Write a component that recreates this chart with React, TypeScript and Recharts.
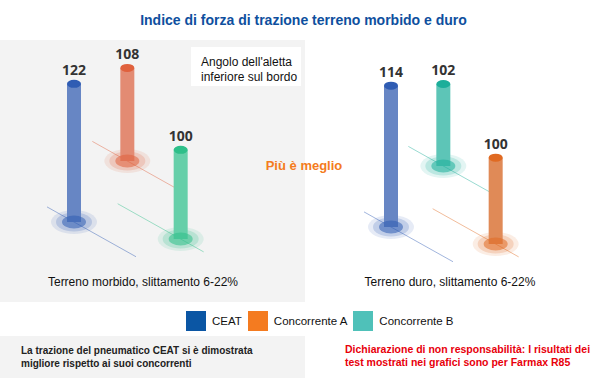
import { BarChart, Bar, XAxis, YAxis } from "recharts";

// valori indice (CEAT = riferimento)
const softCategories = ["CEAT", "Concorrente A", "Concorrente B"];
const softValues = [122, 108, 100];
const hardCategories = ["CEAT", "Concorrente B", "Concorrente A"];
const hardValues = [114, 102, 100];
const legendNames = ["CEAT", "Concorrente A", "Concorrente B"];

const softData = softCategories.map((name, i) => ({ name, value: softValues[i] }));
const hardData = hardCategories.map((name, i) => ({ name, value: hardValues[i] }));

const FONT = '"Liberation Sans", Arial, sans-serif';

const legendColors = { CEAT: "#0b56a4", "Concorrente A": "#f47b20", "Concorrente B": "#4fc1b9" };

const softColors = {
  CEAT: { body: "#6786c4", cap: "#2f5cb3" },
  "Concorrente A": { body: "#e38b73", cap: "#e0613d" },
  "Concorrente B": { body: "#66cfa9", cap: "#2ebf89" },
};
const hardColors = {
  CEAT: { body: "#6786c4", cap: "#2f5cb3" },
  "Concorrente A": { body: "#e08a57", cap: "#e06a22" },
  "Concorrente B": { body: "#5dc5b7", cap: "#1cae9a" },
};

// finta prospettiva: pilastro dietro sollevato e accorciato
const DEPTH = [17, 78, 0];
const LINE_SPAN = [[-27, 62], [-35, 57], [-63, 23]];
const SLOPE = 0.56;
const BACK_SCALE = 0.87;

function Pillar(props: any) {
  const { x, y, width, height, index, payload, colors } = props;
  const c = colors[payload.name];
  const cx = x + width / 2;
  const baseY = y + height - DEPTH[index];
  const h = index === 1 ? height * BACK_SCALE : height;
  const topY = baseY - h;
  const [l, r] = LINE_SPAN[index];
  return (
    <g>
      <line
        x1={cx + l}
        y1={baseY + l * SLOPE}
        x2={cx + r}
        y2={baseY + r * SLOPE}
        stroke={c.cap}
        strokeOpacity={0.45}
      />
      <ellipse cx={cx} cy={baseY} rx={23} ry={12} fill={c.cap} fillOpacity={0.12} />
      <ellipse cx={cx} cy={baseY} rx={18} ry={9.5} fill={c.cap} fillOpacity={0.2} />
      <rect x={cx - 7} y={topY} width={14} height={h} fill={c.body} />
      <ellipse cx={cx} cy={baseY} rx={12} ry={6.5} fill={c.cap} fillOpacity={0.55} />
      <ellipse cx={cx} cy={topY} rx={7} ry={4} fill={c.cap} />
      <text
        x={cx}
        y={topY - 9}
        textAnchor="middle"
        fontFamily='"Noto Sans", sans-serif'
        fontWeight="bold"
        fontSize={14}
        fill="#333"
      >
        {payload.value}
      </text>
    </g>
  );
}

export default function App() {
  return (
    <div style={{ position: "relative", width: 607, height: 378, background: "#fff", fontFamily: FONT }}>
      <style>{`body{margin:0}`}</style>

      <div
        style={{
          position: "absolute", top: 12, left: 0, width: 607, textAlign: "center",
          color: "#0e4f9e", fontWeight: "bold", fontSize: 14,
        }}
      >
        Indice di forza di trazione terreno morbido e duro
      </div>

      {/* pannello terreno morbido */}
      <div style={{ position: "absolute", left: 0, top: 40, width: 305, height: 262, background: "#f3f3f3" }}>
        <BarChart width={305} height={262} data={softData} margin={{ top: 43, right: 98, bottom: 63, left: 47 }}>
          <XAxis dataKey="name" hide />
          <YAxis hide domain={[60, 130]} />
          <Bar
            dataKey="value"
            barSize={14}
            isAnimationActive={false}
            shape={(p: any) => <Pillar {...p} colors={softColors} />}
          />
        </BarChart>
      </div>

      {/* pannello terreno duro */}
      <div style={{ position: "absolute", left: 305, top: 40, width: 302, height: 262 }}>
        <BarChart width={302} height={262} data={hardData} margin={{ top: 47, right: 85, bottom: 58, left: 60 }}>
          <XAxis dataKey="name" hide />
          <YAxis hide domain={[78, 118]} />
          <Bar
            dataKey="value"
            barSize={14}
            isAnimationActive={false}
            shape={(p: any) => <Pillar {...p} colors={hardColors} />}
          />
        </BarChart>
      </div>

      <div
        style={{
          position: "absolute", left: 191, top: 47, width: 110, height: 39, background: "#fff",
          fontSize: 12, color: "#111", lineHeight: "15px", padding: "8px 0 0 10px", boxSizing: "border-box",
        }}
      >
        Angolo dell'aletta<br />inferiore sul bordo
      </div>

      <div
        style={{
          position: "absolute", left: 254, top: 158, width: 100, textAlign: "center",
          color: "#f47b20", fontWeight: "bold", fontSize: 13,
        }}
      >
        Più è meglio
      </div>

      <div style={{ position: "absolute", left: 0, top: 275, width: 286, textAlign: "center", fontSize: 12, color: "#111" }}>
        Terreno morbido, slittamento 6-22%
      </div>
      <div style={{ position: "absolute", left: 305, top: 275, width: 290, textAlign: "center", fontSize: 12, color: "#111" }}>
        Terreno duro, slittamento 6-22%
      </div>

      {/* legenda */}
      <div style={{ position: "absolute", left: 186, top: 311, display: "flex", alignItems: "center", fontSize: 11.5, color: "#111" }}>
        {legendNames.map((n) => (
          <div key={n} style={{ display: "flex", alignItems: "center", marginRight: 6 }}>
            <div style={{ width: 20, height: 20, background: legendColors[n], marginRight: 6 }} />
            <span>{n}</span>
          </div>
        ))}
      </div>

      <div
        style={{
          position: "absolute", left: 0, top: 336, width: 305, height: 42, background: "#f3f3f3",
          fontSize: 10, fontWeight: "bold", color: "#222", lineHeight: "13px", padding: "8px 0 0 21px", boxSizing: "border-box",
        }}
      >
        La trazione del pneumatico CEAT si è dimostrata<br />migliore rispetto ai suoi concorrenti
      </div>
      <div
        style={{
          position: "absolute", left: 345, top: 343, fontSize: 10.5, fontWeight: "bold", color: "#e8000b", lineHeight: "13px",
        }}
      >
        Dichiarazione di non responsabilità: I risultati dei<br />test mostrati nei grafici sono per Farmax R85
      </div>
    </div>
  );
}
